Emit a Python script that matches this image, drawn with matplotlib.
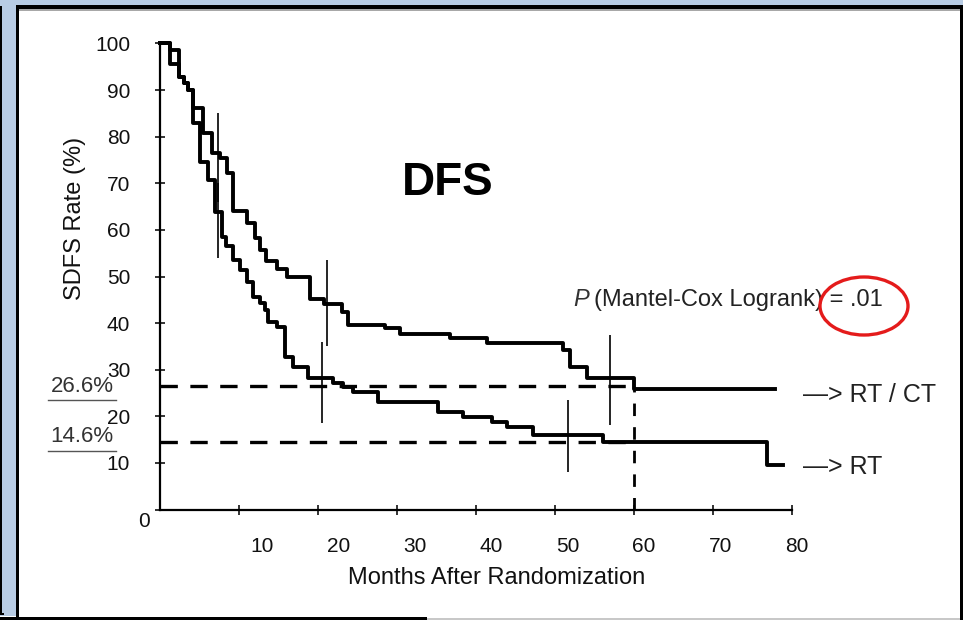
import matplotlib
matplotlib.use('Agg')
import matplotlib.pyplot as plt
from matplotlib.patches import Rectangle, Ellipse
from matplotlib.transforms import ScaledTranslation

plt.rcParams['font.family'] = ['Liberation Sans', 'DejaVu Sans']
plt.rcParams['lines.scale_dashes'] = False

# step curves (months, rate %)
rtct_months = [0, 1.3, 2.4, 3.0, 3.5, 4.2, 5.5, 6.6, 7.6, 8.5, 9.2, 11.0, 12.0, 12.7,
               13.4, 14.8, 16.1, 19.0, 20.8, 23.0, 23.8, 28.5, 30.4, 36.7, 41.4,
               51.0, 51.9, 54.0, 60.0, 77.8]
rtct_rate = [100, 98.6, 92.8, 91.5, 90.0, 86.1, 80.8, 76.5, 75.4, 72.2, 64.0, 61.5, 58.2, 55.7,
             53.3, 51.6, 49.8, 45.2, 44.2, 42.4, 39.6, 38.9, 37.6, 36.8, 35.8,
             34.2, 30.6, 28.2, 25.8, 25.8]

rt_months = [0, 1.3, 2.4, 3.0, 3.5, 4.2, 5.1, 6.1, 7.0, 7.8, 8.4, 9.2, 10.1, 11.0, 11.8,
             12.7, 13.3, 13.7, 14.8, 15.8, 16.8, 18.7, 21.9, 23.2, 24.4, 27.6, 35.2,
             38.4, 42.0, 43.9, 47.2, 56.1, 76.8, 78.9]
rt_rate = [100, 95.5, 92.8, 91.5, 90.0, 83.0, 74.6, 70.7, 63.8, 58.5, 56.5, 53.6, 51.4, 48.8, 45.6,
           44.3, 42.8, 40.2, 39.2, 32.7, 30.6, 28.2, 27.1, 26.3, 25.3, 23.1, 20.9,
           19.8, 18.8, 17.7, 16.0, 14.5, 9.6, 9.6]

# censor marks
censor_month = [7.3, 7.4, 21.1, 20.5, 57.0, 51.6]
censor_low = [66, 54, 35.0, 18.6, 18.2, 8.1]
censor_high = [85, 70, 53.6, 35.9, 37.5, 23.5]

ref_levels = [26.6, 14.6]
ref_labels = ['26.6%', '14.6%']
cutoff_month = 60

xticks = [10, 20, 30, 40, 50, 60, 70, 80]
yticks = [0, 10, 20, 30, 40, 50, 60, 70, 80, 90, 100]

W, H = 963, 620
fig = plt.figure(figsize=(W / 100, H / 100), dpi=100, facecolor='#b8cce4')


def fx(x):
    return x / W


def fy(y):
    return 1 - y / H


def box(x0, y0, x1, y1, color, z=5):
    fig.add_artist(Rectangle((fx(x0), fy(y1)), (x1 - x0) / W, (y1 - y0) / H,
                             transform=fig.transFigure, facecolor=color,
                             edgecolor='none', zorder=z))


# frame
box(0, 616, 963, 620, 'white', -3)
box(19, 11, 960, 618, 'white', -2)
box(16, 5, 963, 9, 'black')
box(19, 9, 960, 11, '#a8a8a8')
box(16, 5, 19, 618, 'black')
box(960, 5, 963, 620, 'black')
box(0, 6, 2, 615, 'black')
box(0, 613, 4, 615, 'black')
box(0, 617, 427, 620, 'black')
box(427, 618, 960, 620, '#c8c8c8')

# 7.9 px per month, 4.662 px per percent
ax = fig.add_axes([fx(160), fy(509.6), 82 * 7.9 / W, 466.2 / H])
ax.patch.set_visible(False)
ax.set_xlim(0, 82)
ax.set_ylim(0, 100)

ax.step(rtct_months, rtct_rate, where='post', color='black', lw=2.8, clip_on=False, zorder=3)
ax.step(rt_months, rt_rate, where='post', color='black', lw=2.8, clip_on=False, zorder=3)
ax.vlines(censor_month, censor_low, censor_high, color='black', lw=1.2, zorder=3)

for lev in ref_levels:
    ax.plot([0, cutoff_month], [lev, lev], color='black', lw=2.4, dashes=(12.5, 9), zorder=2)
ax.plot([cutoff_month, cutoff_month], [0, ref_levels[0] - 0.6], color='black', lw=2.0,
        dashes=(9, 8), zorder=2)

for s in ['top', 'right']:
    ax.spines[s].set_visible(False)
for s in ['left', 'bottom']:
    ax.spines[s].set_linewidth(1.6)
ax.spines['bottom'].set_bounds(0, 80)

ax.set_yticks(yticks)
ax.set_yticklabels([str(v) for v in yticks])
ax.set_xticks(xticks)
ax.set_xticklabels([])
ax.tick_params(direction='inout', length=7, width=1.2, colors='#111111')
ax.tick_params(axis='y', pad=18, labelsize=15)
# scanned figure: "0" label sits lower and to the right
zero = ax.get_yticklabels()[0]
zero.set_transform(zero.get_transform() + ScaledTranslation(0.20, -0.10, fig.dpi_scale_trans))

# x tick labels in the scan are spaced a little tighter than the ticks
sec = ax.secondary_xaxis('bottom', functions=(lambda x: (x - 3.241) / 0.9671,
                                              lambda m: 3.241 + 0.9671 * m))
sec.set_xticks(xticks)
sec.spines['bottom'].set_visible(False)
sec.tick_params(length=0, pad=20, labelsize=15, colors='#111111')

fig.text(fx(497), fy(578), 'Months After Randomization', ha='center', va='center',
         fontsize=17, color='#111111')
fig.text(fx(75), fy(218), 'SDFS Rate (%)', ha='center', va='center', rotation=90,
         fontsize=17, color='#111111')
fig.text(fx(448), fy(183), 'DFS', ha='center', va='center', fontsize=33,
         fontweight='bold', color='black')

fig.text(fx(573), fy(300), 'P', ha='left', va='center', fontsize=17, style='italic',
         color='#333333')
fig.text(fx(594), fy(300), '(Mantel-Cox Logrank) = .01', ha='left', va='center',
         fontsize=17, color='#222222')
fig.add_artist(Ellipse((fx(864), fy(306)), 88 / W, 58 / H, transform=fig.transFigure,
                       facecolor='none', edgecolor='#e41b1b', lw=2.4, zorder=6))

fig.text(fx(803), fy(395), '—> RT / CT', ha='left', va='center', fontsize=18, color='#222222')
fig.text(fx(803), fy(467), '—> RT', ha='left', va='center', fontsize=18, color='#222222')

for lab, ypx, upx in zip(ref_labels, [387, 437], [400, 451]):
    fig.text(fx(82), fy(ypx), lab, ha='center', va='center', fontsize=16,
             color='#333333')
    fig.add_artist(plt.Line2D([fx(48), fx(116)], [fy(upx), fy(upx)],
                              transform=fig.transFigure, color='#555555', lw=1.0))

fig.savefig('out.png', dpi=100, facecolor=fig.get_facecolor())
